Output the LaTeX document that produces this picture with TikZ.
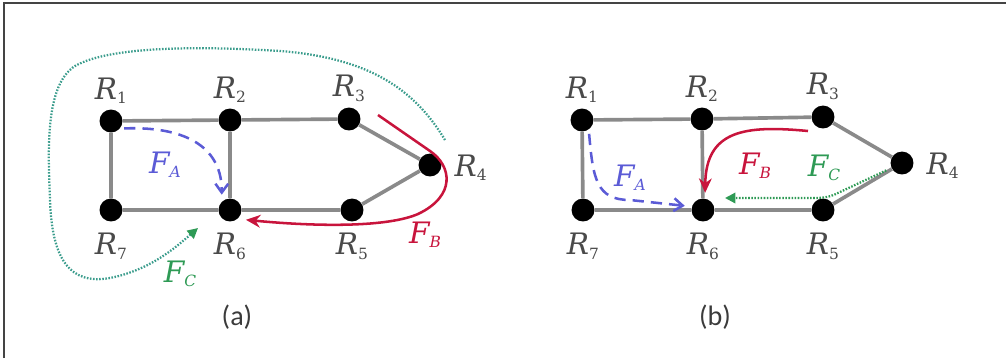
\documentclass[tikz,border=0pt]{standalone}
\usepackage{fontspec}
\setsansfont{Carlito}
\newfontfamily\lettres{DejaVu Serif}
\usetikzlibrary{arrows.meta,positioning}
\definecolor{gristrait}{HTML}{8A8A8A}
\definecolor{gristexte}{HTML}{4A4A4A}
\definecolor{griscadre}{HTML}{444444}
\definecolor{bleuflux}{HTML}{5B5BD6}
\definecolor{rougeflux}{HTML}{C8143C}
\definecolor{vertflux}{HTML}{2E9A55}
\definecolor{turquoise}{HTML}{3A9C8C}
\newcommand{\nomr}[1]{{\itshape R}\raisebox{-3pt}{\fontsize{11}{11}\selectfont #1}}
\newcommand{\nomf}[1]{{\itshape F}\raisebox{-3pt}{\itshape\fontsize{11}{11}\selectfont #1}}
\tikzset{
  routeur/.style={circle,fill=black,minimum size=16.3pt,inner sep=0pt},
  lien/.style={draw=gristrait,line width=2.6pt},
  lbl/.style={font=\lettres\fontsize{21}{24}\selectfont,text=gristexte,inner sep=0pt},
  lblhaut/.style={lbl,label distance=4pt},
  lblbas/.style={lbl,label distance=8pt},
  lbldroite/.style={lbl,label distance=9pt,yshift=-2pt},
  lblflux/.style={font=\lettres\fontsize{21}{24}\selectfont,inner sep=0pt},
  fluxA/.style={bleuflux,line width=1.8pt,dash pattern=on 8pt off 5pt,
                -{Straight Barb[length=2.2mm,width=3.2mm]},shorten <=3pt},
  fluxB/.style={rougeflux,line width=1.8pt,-{Stealth[length=3.6mm,width=3.2mm]}},
  fluxC/.style={line width=1.6pt,dash pattern=on 1.1pt off 1.1pt,
                -{Triangle[length=2.6mm,width=2.6mm,color=vertflux]}},
  legende/.style={font=\sffamily\fontsize{20}{22}\selectfont,text=gristexte!80!black},
  cadre/.style={draw=griscadre,line width=1.2pt},
}
\begin{document}
\begin{tikzpicture}[x=0.025cm,y=-0.025cm]
  \useasboundingbox (0,0) rectangle (1006,358);
  \draw[cadre] (4,358) -- (4,3) -- (1006,3);

  \node[routeur,label={[lblhaut]above:\nomr{1}}] (a1) at (111,121) {};
  \node[routeur,label={[lblhaut]above:\nomr{2}}] (a2) at (230,120) {};
  \node[routeur,label={[lblhaut]above:\nomr{3}}] (a3) at (349,119) {};
  \node[routeur,label={[lbldroite]right:\nomr{4}}] (a4) at (430,165) {};
  \node[routeur,label={[lblbas]below:\nomr{5}}] (a5) at (352,210) {};
  \node[routeur,label={[lblbas]below:\nomr{6}}] (a6) at (230,210) {};
  \node[routeur,label={[lblbas]below:\nomr{7}}] (a7) at (111,210) {};
  \draw[lien] (a1) -- (a2) -- (a3) -- (a4) -- (a5) -- (a6) -- (a7) -- (a1);
  \draw[lien] (a2) -- (a6);

  \coordinate (fbA) at (378,115);
  \coordinate (fcA) at (445,140);
  \coordinate (fcA2) at (198,228);
  \draw[fluxA,shorten >=5pt] (a1.-40) .. controls (190,126) and (222,150) .. (a6.north west);
  \draw[fluxB,shorten >=6pt] (fbA) -- (430,151) .. controls (452,166) and (456,196) .. (418,214)
    .. controls (388,227) and (320,227) .. (a6.-50);
  \draw[fluxC,turquoise] (fcA) .. controls (415,90) and (370,58) .. (280,51)
    .. controls (200,46) and (110,46) .. (75,66) .. controls (45,85) and (48,150) .. (50,200)
    .. controls (52,260) and (70,285) .. (110,278) .. controls (150,270) and (175,248) .. (fcA2);
  \node[lblflux,bleuflux] (nfaA) at (165,165) {\nomf{A}};
  \node[lblflux,rougeflux] (nfbA) at (425,235) {\nomf{B}};
  \node[lblflux,vertflux] (nfcA) at (180,274) {\nomf{C}};
  \node[legende] (capA) at (237,317) {(a)};

  \node[routeur,label={[lblhaut]above:\nomr{1}}] (b1) at (582,120) {};
  \node[routeur,label={[lblhaut]above:\nomr{2}}] (b2) at (702,119) {};
  \node[routeur,label={[lblhaut]above:\nomr{3}}] (b3) at (823,117) {};
  \node[routeur,label={[lbldroite]right:\nomr{4}}] (b4) at (902,163) {};
  \node[routeur,label={[lblbas]below:\nomr{5}}] (b5) at (823,210) {};
  \node[routeur,label={[lblbas]below:\nomr{6}}] (b6) at (703,210) {};
  \node[routeur,label={[lblbas]below:\nomr{7}}] (b7) at (583,210) {};
  \draw[lien] (b1) -- (b2) -- (b3) -- (b4) -- (b5) -- (b6) -- (b7) -- (b1);
  \draw[lien] (b2) -- (b6);

  \coordinate (fbB) at (808,131);
  \coordinate (fcB) at (725,198);
  \draw[fluxA,shorten >=5pt] (b1.-55) .. controls (593,178) and (596,200) .. (630,200) -- (b6.163);
  \draw[fluxB,shorten >=4pt] (fbB) .. controls (745,125) and (706,130) .. (b6.80);
  \draw[fluxC,vertflux,shorten <=4pt] (b4.205) -- (840,192) .. controls (834,195) and (828,198) .. (815,198) -- (fcB);
  \node[lblflux,bleuflux] (nfaB) at (630,178) {\nomf{A}};
  \node[lblflux,rougeflux] (nfbB) at (755,166) {\nomf{B}};
  \node[lblflux,vertflux] (nfcB) at (824,168) {\nomf{C}};
  \node[legende] (capB) at (715,317) {(b)};
\end{tikzpicture}
\end{document}
